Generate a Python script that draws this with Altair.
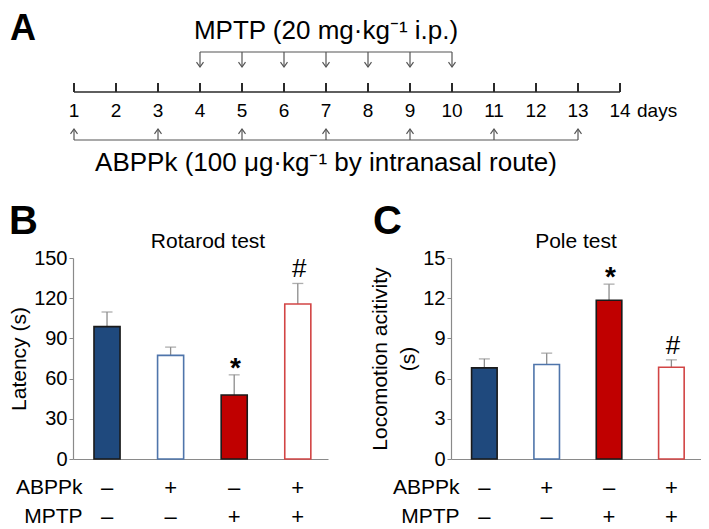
import altair as alt
import pandas as pd

# ---------------- data ----------------
groups = ["Control", "ABPPk", "MPTP", "ABPPk+MPTP"]
abppk_signs = ["–", "+", "–", "+"]
mptp_signs = ["–", "–", "+", "+"]

rotarod_mean = [98.8, 77.3, 47.8, 115.7]
rotarod_sem = [10.9, 6.2, 15.0, 15.3]
rotarod_sig = ["", "", "*", "#"]

pole_mean = [6.8, 7.05, 11.85, 6.85]
pole_sem = [0.67, 0.85, 1.2, 0.55]
pole_sig = ["", "", "*", "#"]

days = [1, 2, 3, 4, 5, 6, 7, 8, 9, 10, 11, 12, 13, 14]
mptp_days = [4, 5, 6, 7, 8, 9, 10]
abppk_days = [1, 3, 5, 7, 9, 11, 13]

rotarod_ticks = [0, 30, 60, 90, 120, 150]
pole_ticks = [0, 3, 6, 9, 12, 15]

mptp_text = "MPTP (20 mg·kg⁻¹ i.p.)"
abppk_text = "ABPPk (100 μg·kg⁻¹ by intranasal route)"

# ---------------- style ----------------
FONT = "Liberation Sans"
W, H = 693, 521
AXIS_GRAY = "#8a8a8a"
fill_range = ["#1f497d", "#ffffff", "#c00000", "#ffffff"]
stroke_range = ["#1a1a1a", "#4f75ab", "#1a1a1a", "#d24545"]
Y_RANGE = [451, 250]
AXIS_Y = 451


def sign_expr():
    s = ""
    for g, a, m in zip(groups, abppk_signs, mptp_signs):
        s += f"datum.value === '{g}' ? ['{a}', '{m}'] : "
    return s + "''"


def panel(means, sems, sig, ymax, yticks, ytitle, xrange, row_title_x,
          title_pad):
    df = pd.DataFrame({
        "group": groups,
        "mean": means,
        "top": [m + s for m, s in zip(means, sems)],
        "sig": sig,
    })
    xscale = alt.Scale(domain=groups, range=xrange, paddingInner=0.59,
                       paddingOuter=0.3, align=0.55)
    yscale = alt.Scale(domain=[0, ymax], range=Y_RANGE, nice=False)
    xaxis = alt.Axis(
        orient="bottom", offset=AXIS_Y - H, domainColor=AXIS_GRAY,
        domainWidth=1.2, ticks=False, tickSize=0, labelExpr=sign_expr(),
        labelFontSize=22, labelLineHeight=29, labelBaseline="middle",
        labelPadding=28, labelAngle=0, labelColor="#000",
        labelOverlap=False, labelBound=False, labelFlush=False,
        title=["ABPPk", "MPTP"], titleFontSize=21, titleFontWeight="normal",
        titleAlign="right", titleBaseline="middle", titleLineHeight=29,
        titleX=row_title_x, titleY=28, titleColor="#000",
    )
    yaxis = alt.Axis(
        orient="left", offset=-xrange[0], values=yticks, domainColor=AXIS_GRAY,
        domainWidth=1.2, tickColor=AXIS_GRAY, tickSize=4, labelFontSize=20,
        labelPadding=2, labelColor="#000", grid=False, title=ytitle,
        titleFontSize=21, titleFontWeight="normal", titlePadding=title_pad,
        titleColor="#000", titleLineHeight=28,
    )
    base = alt.Chart(df)
    fill = alt.Fill("group:N", scale=alt.Scale(domain=groups, range=fill_range),
                    legend=None)
    stroke = alt.Stroke("group:N",
                        scale=alt.Scale(domain=groups, range=stroke_range),
                        legend=None)
    err = base.mark_rule(color="#8c8c8c", strokeWidth=1.3).encode(
        x=alt.X("group:N", scale=xscale, axis=None),
        y=alt.Y("mean:Q", scale=yscale, axis=None),
        y2="top:Q",
    )
    cap = base.mark_tick(color="#8c8c8c", thickness=1.3, size=11).encode(
        x=alt.X("group:N", scale=xscale, axis=None),
        y=alt.Y("top:Q", scale=yscale, axis=None),
    )
    bars = base.mark_bar(strokeWidth=1.6).encode(
        x=alt.X("group:N", scale=xscale, axis=xaxis),
        y=alt.Y("mean:Q", scale=yscale, axis=yaxis),
        fill=fill, stroke=stroke,
    )
    star = base.transform_filter("datum.sig === '*'").mark_text(
        fontSize=28, fontWeight="bold", baseline="alphabetic", dy=2,
        color="#000").encode(
        x=alt.X("group:N", scale=xscale, axis=None),
        y=alt.Y("top:Q", scale=yscale, axis=None),
        text="sig:N",
    )
    hashm = base.transform_filter("datum.sig === '#'").mark_text(
        fontSize=26, baseline="alphabetic", dy=-6, color="#000").encode(
        x=alt.X("group:N", scale=xscale, axis=None),
        y=alt.Y("top:Q", scale=yscale, axis=None),
        text="sig:N",
    )
    return [err, cap, bars, star, hashm]


panel_b = panel(rotarod_mean, rotarod_sem, rotarod_sig, 150, rotarod_ticks,
                "Latency (s)", [65, 320], 74, 4)
panel_c = panel(pole_mean, pole_sem, pole_sig, 15, pole_ticks,
                ["Locomotion acitivity", "(s)"], [443, 693], 451, 4)

# ---------------- timeline (panel A) ----------------
dscale = alt.Scale(domain=[days[0], days[-1]], range=[66, 612])
LINE = "#2a2a2a"
ARROW = "#555555"


def dx(field):
    return alt.X(field, scale=dscale, axis=None)


main_df = pd.DataFrame({"start": [days[0]], "end": [days[-1]]})
day_df = pd.DataFrame({"day": days})
mptp_df = pd.DataFrame({"day": mptp_days})
abppk_df = pd.DataFrame({"day": abppk_days})
mptp_span = pd.DataFrame({"start": [min(mptp_days)], "end": [max(mptp_days)],
                          "mid": [(min(mptp_days) + max(mptp_days)) / 2],
                          "label": [mptp_text]})
abppk_span = pd.DataFrame({"start": [min(abppk_days)], "end": [max(abppk_days)],
                           "mid": [(min(abppk_days) + max(abppk_days)) / 2],
                           "label": [abppk_text]})
days_word = pd.DataFrame({"day": [days[-1]], "label": ["days"]})

timeline = [
    alt.Chart(main_df).mark_rule(color=LINE, strokeWidth=1.6).encode(
        x=dx("start:Q"), x2="end:Q", y=alt.value(84)),
    alt.Chart(day_df).mark_rule(color=LINE, strokeWidth=2).encode(
        x=dx("day:Q"), y=alt.value(75), y2=alt.value(84)),
    alt.Chart(day_df).mark_text(fontSize=19, baseline="middle",
                                color="#000").encode(
        x=dx("day:Q"), y=alt.value(103), text="day:N"),
    alt.Chart(days_word).mark_text(fontSize=19, baseline="middle", align="left",
                                   dx=17, color="#000").encode(
        x=dx("day:Q"), y=alt.value(103), text="label:N"),
    # MPTP bracket
    alt.Chart(mptp_span).mark_rule(color=ARROW, strokeWidth=1.2).encode(
        x=dx("start:Q"), x2="end:Q", y=alt.value(44)),
    alt.Chart(mptp_df).mark_rule(color=ARROW, strokeWidth=1.2).encode(
        x=dx("day:Q"), y=alt.value(44), y2=alt.value(59)),
    alt.Chart(mptp_df).mark_point(shape="M-1,-1.4L0,0L1,-1.4", size=49,
                                  filled=False, color=ARROW,
                                  strokeWidth=1.2, opacity=1).encode(
        x=dx("day:Q"), y=alt.value(59)),
    alt.Chart(mptp_span).mark_text(fontSize=26, baseline="middle",
                                   color="#000").encode(
        x=dx("mid:Q"), y=alt.value(23), text="label:N"),
    # ABPPk bracket
    alt.Chart(abppk_span).mark_rule(color=ARROW, strokeWidth=1.2).encode(
        x=dx("start:Q"), x2="end:Q", y=alt.value(132)),
    alt.Chart(abppk_df).mark_rule(color=ARROW, strokeWidth=1.2).encode(
        x=dx("day:Q"), y=alt.value(121), y2=alt.value(132)),
    alt.Chart(abppk_df).mark_point(shape="M-1,1.4L0,0L1,1.4", size=49,
                                   filled=False, color=ARROW,
                                   strokeWidth=1.2, opacity=1).encode(
        x=dx("day:Q"), y=alt.value(121)),
    alt.Chart(abppk_span).mark_text(fontSize=26, baseline="middle",
                                    color="#000").encode(
        x=dx("mid:Q"), y=alt.value(155), text="label:N"),
]


# ---------------- panel letters & titles ----------------
def label(text, x, y, size, bold=False, align="left"):
    return alt.Chart(pd.DataFrame({"t": [text]})).mark_text(
        fontSize=size, fontWeight="bold" if bold else "normal", align=align,
        baseline="middle", color="#000").encode(
        text="t:N", x=alt.value(x), y=alt.value(y))


annotations = [
    label("A", 2, 21, 36, True),
    label("B", 1, 214, 40, True),
    label("C", 365, 214, 40, True),
    label("Rotarod test", 200, 234, 21, align="center"),
    label("Pole test", 568, 234, 21, align="center"),
]

chart = alt.layer(*timeline, *panel_b, *panel_c, *annotations).resolve_scale(
    x="independent", y="independent"
).properties(
    width=W, height=H, padding=0, autosize=alt.AutoSizeParams(type="none")
).configure(font=FONT).configure_view(stroke=None)

chart.save("out.html", embed_options={"renderer": "svg", "actions": False})
